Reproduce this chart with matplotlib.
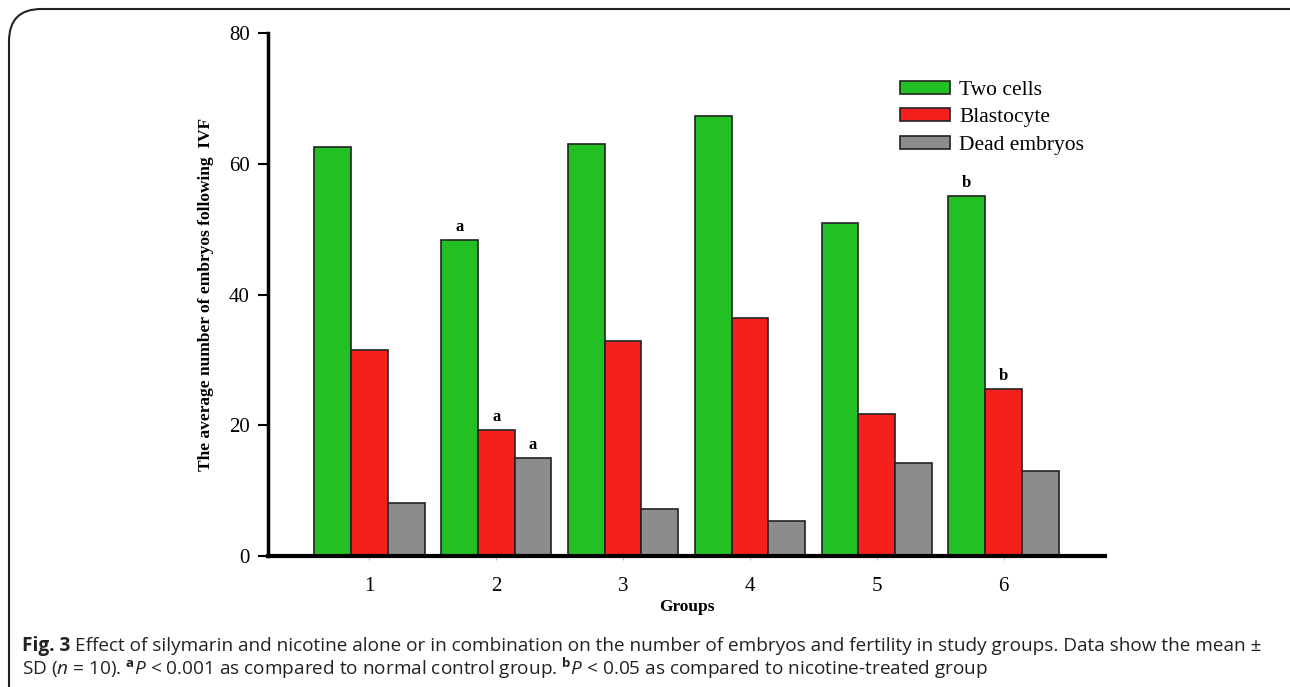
import matplotlib
matplotlib.use("Agg")
import matplotlib.pyplot as plt
import numpy as np
from matplotlib.patches import FancyBboxPatch

groups = ["1", "2", "3", "4", "5", "6"]
series_names = ["Two cells", "Blastocyte", "Dead embryos"]
two_cells = [62.5, 48.3, 63.0, 67.3, 50.9, 55.0]
blastocyte = [31.5, 19.3, 32.9, 36.4, 21.7, 25.5]
dead_embryos = [8.1, 15.0, 7.2, 5.4, 14.2, 13.0]
y_ticks = [0, 20, 40, 60, 80]
# significance marks: (series index, group index, label)
marks = [(0, 1, "a"), (1, 1, "a"), (2, 1, "a"), (0, 5, "b"), (1, 5, "b")]

colors = ["#22C022", "#F5201E", "#8C8C8C"]

plt.rcParams['mathtext.fontset'] = 'custom'
plt.rcParams['mathtext.rm'] = 'Open Sans'
plt.rcParams['mathtext.it'] = 'Open Sans:italic'
plt.rcParams['mathtext.bf'] = 'Open Sans:bold'

W, H = 1290, 687
fig = plt.figure(figsize=(W / 100, H / 100), dpi=100)
ax = fig.add_axes([268 / W, 1 - 556 / H, (1105 - 268) / W, (556 - 33) / H])

serif = "Liberation Serif"
x = np.arange(1, len(groups) + 1)
bw = 0.29
data = [two_cells, blastocyte, dead_embryos]
for i, (vals, c, name) in enumerate(zip(data, colors, series_names)):
    ax.bar(x + (i - 1) * bw, vals, width=bw, color=c, edgecolor="#222222",
           linewidth=1.2, label=name, zorder=2)

for si, gi, lab in marks:
    ax.text(x[gi] + (si - 1) * bw, data[si][gi] + 0.8, lab, ha="center", va="bottom",
            fontsize=12, fontweight="bold", family=serif)

ax.set_xlim(0.2, 6.8)
ax.set_ylim(0, 80)
ax.set_yticks(y_ticks)
ax.set_xticks(x)
ax.set_xticklabels(groups)
for s in ["top", "right"]:
    ax.spines[s].set_visible(False)
ax.spines["left"].set_linewidth(2.5)
ax.spines["bottom"].set_linewidth(3)
ax.tick_params(axis="y", direction="out", length=7, width=1.5, labelsize=15, pad=6)
ax.tick_params(axis="x", direction="out", length=3, width=0.8, color="#bbbbbb",
               labelsize=15, pad=12)
for lbl in ax.get_xticklabels() + ax.get_yticklabels():
    lbl.set_family(serif)

ax.set_ylabel("The average number of embryos following  IVF", fontsize=12.5,
              fontweight="bold", family=serif, labelpad=11)
ax.set_xlabel("Groups", fontsize=12.5, fontweight="bold", family=serif, labelpad=2)

leg = ax.legend(loc="upper left", bbox_to_anchor=(900 / W, 1 - 81 / H),
                bbox_transform=fig.transFigure, frameon=False,
                prop={"family": serif, "size": 15.5}, handlelength=2.3,
                handleheight=0.55, labelspacing=0.38, handletextpad=0.45,
                borderaxespad=0, borderpad=0)

# rounded border around the figure
box = FancyBboxPatch((9 / W, -0.05), 1.2, 1 - 9 / H + 0.05,
                     boxstyle="round,pad=0,rounding_size=0.025",
                     transform=fig.transFigure, fill=False, edgecolor="#222222",
                     linewidth=1.5, mutation_aspect=W / H)
fig.patches.append(box)

cap_kw = dict(fontsize=13.7, family="Open Sans", color="#222222", ha="left", va="baseline")
t0 = fig.text(22 / W, 1 - 651 / H, "Fig. 3", fontweight="bold", **cap_kw)
fig.canvas.draw()
bb = t0.get_window_extent(fig.canvas.get_renderer())
fig.text((bb.x1 + 5) / W, 1 - 651 / H,
         "Effect of silymarin and nicotine alone or in combination on the number of embryos and fertility in study groups. Data show the mean ±",
         **cap_kw)
fig.text(22 / W, 1 - 675 / H,
         r"SD ($\mathit{n}$ = 10). $^{\mathbf{a}}\mathit{P}$ < 0.001 as compared to normal control group. $^{\mathbf{b}}\mathit{P}$ < 0.05 as compared to nicotine-treated group",
         **cap_kw)

fig.savefig("out.png", dpi=100)
